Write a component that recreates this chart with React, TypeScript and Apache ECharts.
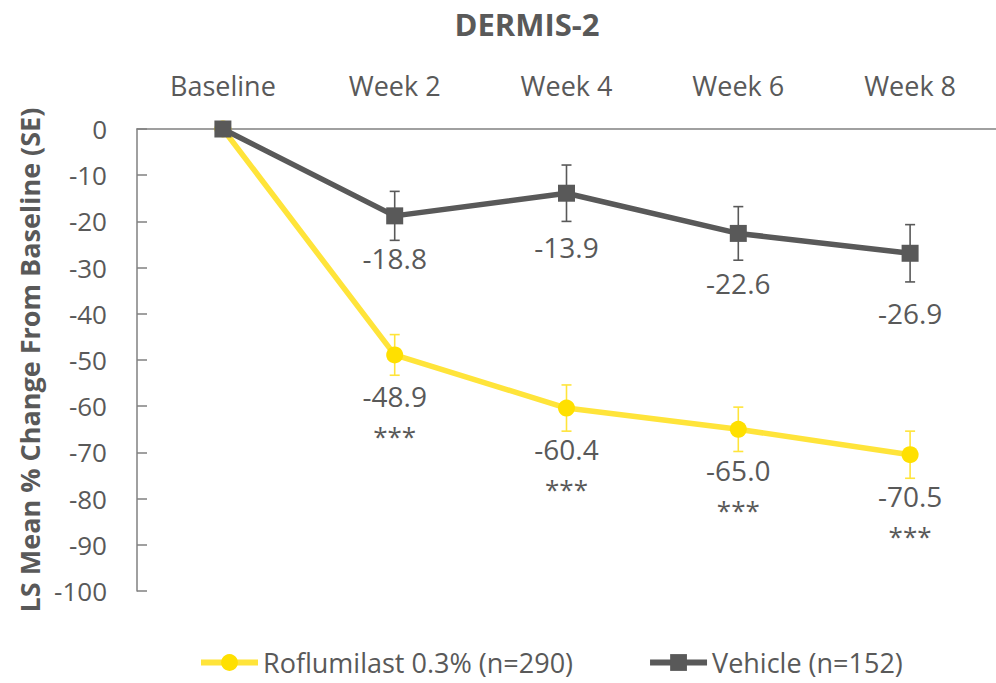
import React, { useEffect, useRef } from "react";
import * as echarts from "echarts";

const categories = ["Baseline", "Week 2", "Week 4", "Week 6", "Week 8"];
const roflumilastMean = [0, -48.9, -60.4, -65.0, -70.5];
const roflumilastSE = [0, 4.4, 5.0, 4.8, 5.1];
const roflumilastSig = ["", "***", "***", "***", "***"];
const vehicleMean = [0, -18.8, -13.9, -22.6, -26.9];
const vehicleSE = [0, 5.3, 6.1, 5.8, 6.2];
const yTicks = { min: -100, max: 0, interval: 10 };

const seriesNames = ["Roflumilast 0.3% (n=290)", "Vehicle (n=152)"];

// layout-only: vertical label offsets (px) below each point
const rofLabelOffsets = [0, 61, 61, 61, 61];
const vehLabelOffsets = [0, 42, 54, 50, 60];

const FONT = "Open Sans";
const TEXT = "#595959";
const GRAY = "#595959";
const YELLOW_LINE = "#FFE43A";
const YELLOW_MARK = "#FFE000";
const AXIS = "#808080";

function errorRenderer(color: string) {
  return (params: any, api: any) => {
    const x = api.value(0);
    const y = api.value(1);
    const e = api.value(2);
    if (!e) return null;
    const hi = api.coord([x, y + e]);
    const lo = api.coord([x, y - e]);
    const hw = 5;
    const style = { stroke: color, lineWidth: 1.6 };
    return {
      type: "group",
      children: [
        { type: "line", shape: { x1: hi[0], y1: hi[1], x2: lo[0], y2: lo[1] }, style },
        { type: "line", shape: { x1: hi[0] - hw, y1: hi[1], x2: hi[0] + hw, y2: hi[1] }, style },
        { type: "line", shape: { x1: lo[0] - hw, y1: lo[1], x2: lo[0] + hw, y2: lo[1] }, style },
      ],
    };
  };
}

export default function App() {
  const ref = useRef<HTMLDivElement>(null);
  useEffect(() => {
    if (!ref.current) return;
    const chart = echarts.init(ref.current, undefined, { renderer: "svg" });
    const option: any = {
      animation: false,
      backgroundColor: "#ffffff",
      textStyle: { fontFamily: FONT },
      title: {
        text: "DERMIS-2",
        left: 522,
        top: 3,
        textAlign: "center",
        textStyle: { fontFamily: FONT, fontSize: 31, fontWeight: "bold", color: TEXT },
      },
      legend: {
        data: [
          { name: seriesNames[0], lineStyle: { width: 6, color: YELLOW_LINE } },
          { name: seriesNames[1], lineStyle: { width: 6, color: GRAY } },
        ],
        left: 193,
        top: 644,
        itemWidth: 57,
        itemHeight: 21,
        itemGap: 74,
        textStyle: { fontFamily: FONT, fontSize: 27, color: TEXT },
        selectedMode: false,
      },
      grid: { left: 137, right: -4, top: 129, bottom: 92, containLabel: false },
      xAxis: {
        type: "category",
        data: categories,
        position: "top",
        boundaryGap: true,
        axisLine: { show: true, lineStyle: { color: AXIS, width: 1.5 } },
        axisTick: { show: false },
        axisLabel: { color: TEXT, fontSize: 27, fontFamily: FONT, margin: 30 },
        splitLine: { show: false },
      },
      yAxis: {
        type: "value",
        min: yTicks.min,
        max: yTicks.max,
        interval: yTicks.interval,
        name: "LS Mean % Change From Baseline (SE)",
        nameLocation: "middle",
        nameGap: 92,
        nameRotate: 90,
        nameTextStyle: { fontFamily: FONT, fontSize: 27, fontWeight: "bold", color: TEXT },
        axisLine: { show: true, lineStyle: { color: AXIS, width: 1.5 } },
        axisTick: { show: true, inside: true, length: 10, lineStyle: { color: AXIS, width: 1.5 } },
        axisLabel: { color: TEXT, fontSize: 26, fontFamily: FONT, margin: 30 },
        splitLine: { show: false },
      },
      series: [
        {
          type: "custom",
          name: "rofErr",
          z: 1,
          silent: true,
          renderItem: errorRenderer(YELLOW_LINE),
          data: roflumilastMean.map((v, i) => [i, v, roflumilastSE[i]]),
        },
        {
          type: "line",
          name: seriesNames[0],
          z: 2,
          silent: true,
          symbol: "circle",
          symbolSize: 17,
          itemStyle: { color: YELLOW_MARK },
          lineStyle: { color: YELLOW_LINE, width: 5.5 },
          emphasis: { disabled: true },
          label: {
            show: true,
            position: "inside",
            formatter: (p: any) =>
              `{v|${roflumilastMean[p.dataIndex].toFixed(1)}}\n{s|${roflumilastSig[p.dataIndex]}}`,
            rich: {
              v: { fontFamily: FONT, fontSize: 28, color: TEXT, lineHeight: 40 },
              s: { fontFamily: FONT, fontSize: 26, color: TEXT, lineHeight: 40 },
            },
          },
          data: roflumilastMean.map((v, i) => ({
            value: v,
            label: { show: i > 0, offset: [0, rofLabelOffsets[i]] },
          })),
        },
        {
          type: "custom",
          name: "vehErr",
          z: 3,
          silent: true,
          renderItem: errorRenderer(GRAY),
          data: vehicleMean.map((v, i) => [i, v, vehicleSE[i]]),
        },
        {
          type: "line",
          name: seriesNames[1],
          z: 4,
          silent: true,
          symbol: "rect",
          symbolSize: 17,
          itemStyle: { color: GRAY },
          lineStyle: { color: GRAY, width: 5.5 },
          emphasis: { disabled: true },
          label: {
            show: true,
            position: "inside",
            formatter: (p: any) => vehicleMean[p.dataIndex].toFixed(1),
            fontFamily: FONT,
            fontSize: 28,
            color: TEXT,
          },
          data: vehicleMean.map((v, i) => ({
            value: v,
            label: { show: i > 0, offset: [0, vehLabelOffsets[i]] },
          })),
        },
      ],
    };
    chart.setOption(option);
    return () => chart.dispose();
  }, []);
  return <div ref={ref} style={{ width: 996, height: 683, position: "absolute", left: 0, top: 0 }} />;
}
